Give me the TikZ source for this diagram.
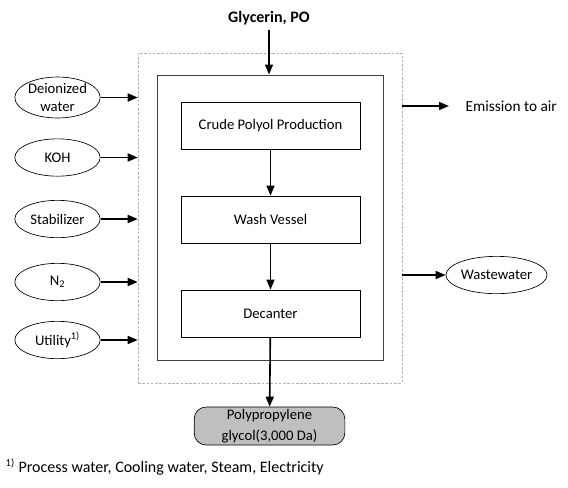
\documentclass[tikz,border=0pt]{standalone}
\usepackage{fontspec}
\setmainfont{Carlito}
\usetikzlibrary{arrows.meta,shapes.geometric}
\begin{document}
\begin{tikzpicture}[x=0.75pt,y=-0.75pt,font=\fontsize{11}{14}\selectfont,
    flow/.style={-{Triangle[length=7.5pt,width=6pt]},line width=1.2pt}]
    \useasboundingbox (0,0) rectangle (568,487);
    % frames
    \node[draw=gray!60,dash pattern=on 2pt off 1.2pt,minimum width=198pt,minimum height=247.5pt] (outer) at (270,218) {};
    \node[draw=black!75,line width=0.75pt,minimum width=169.5pt,minimum height=213.75pt] (inner) at (270,217.5) {};
    \node[font=\fontsize{12}{14}\selectfont\bfseries] (feed) at (269,18) {Glycerin, PO};

    \begin{scope}[every node/.style={rectangle,draw,line width=0.6pt,minimum width=134.25pt,minimum height=35.25pt}]
        \node (crude) at (270.5,125.5) {Crude Polyol Production};
        \node (wash) at (270.5,219.5) {Wash Vessel};
        \node (decant) at (270.5,313.5) {Decanter};
    \end{scope}

    \begin{scope}[every node/.style={ellipse,draw,line width=0.5pt,inner sep=0pt,minimum width=64pt,minimum height=28pt,align=center}]
        \node (water) at (57.5,97.5) {Deionized\\water};
        \node (koh) at (57.5,157.5) {KOH};
        \node (stab) at (57.5,219) {Stabilizer};
        \node (nitro) at (57.5,282) {N\textsubscript{2}};
        \node (util) at (57.5,340) {Utility\textsuperscript{1)}};
        \node[minimum width=74pt] (waste) at (496.5,275) {Wastewater};
    \end{scope}

    \node[draw,line width=0.5pt,fill=black!25,rounded corners=9pt,minimum width=113pt,minimum height=28.5pt,align=center,inner sep=0pt] (prod) at (269.5,426) {Polypropylene\\[1.5pt]glycol(3,000 Da)};
    \node[anchor=west,font=\fontsize{11.5}{14}\selectfont] (emis) at (461,106) {Emission to air};
    \node[anchor=west,font=\fontsize{12}{14}\selectfont] (note) at (1,467) {\textsuperscript{1)} Process water, Cooling water, Steam, Electricity};

    \begin{scope}[every edge/.style={draw,flow}]
        \path (feed) edge (feed |- inner.north);
        \path (crude) edge (wash);
        \path (wash) edge (decant);
        \path (decant) edge (prod);
        \path (water.east) edge (water -| outer.west);
        \path (koh.east) edge (koh -| outer.west);
        \path (stab.east) edge (stab -| outer.west);
        \path (nitro.east) edge (nitro -| outer.west);
        \path (util.east) edge (util -| outer.west);
        \path (emis -| outer.east) edge[shorten >=9pt] (emis.west);
        \path (waste -| outer.east) edge (waste.west);
    \end{scope}
\end{tikzpicture}
\end{document}
